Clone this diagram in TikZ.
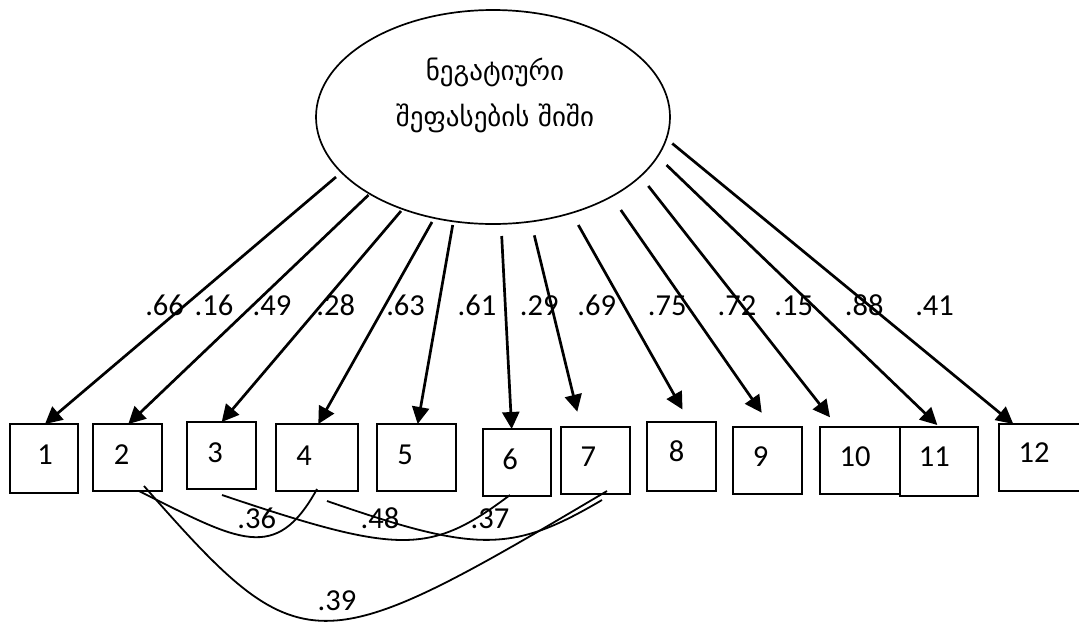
\documentclass[tikz,border=0pt]{standalone}
\usepackage{fontspec}
\setmainfont{Carlito}
\newfontfamily\geofont{DejaVu Sans}
\usetikzlibrary{arrows.meta,shapes.geometric}
\begin{document}
\begin{tikzpicture}[x=1pt,y=-1pt,
  box/.style={draw, line width=2.2pt, rectangle, inner sep=0pt},
  num/.style={inner sep=0pt, text height=19.3pt, text depth=0pt, font=\fontsize{30.5}{36}\selectfont},
  coef/.style={inner sep=0pt, text height=19.3pt, text depth=0pt, font=\fontsize{30.5}{36}\selectfont},
  arr/.style={line width=2.7pt, -{Triangle[length=17pt,width=17pt]}},
  cov/.style={line width=1.8pt}]
\useasboundingbox (0,0) rectangle (1079,622);
% latent variable
\node[draw, ellipse, line width=1.7pt, minimum width=354pt, minimum height=214pt, inner sep=0pt] (lat) at (493,117) {};
\node[inner sep=0pt, align=center, font=\geofont\fontsize{27}{46}\selectfont] (latname) at (495,95) {ნეგატიური\\შეფასების შიში};
% indicator boxes
\node[box, minimum width=68.3pt, minimum height=68.7pt] (b1) at (44.2,458.4) {};
\node[box, minimum width=68.4pt, minimum height=66.7pt] (b2) at (127.5,457.4) {};
\node[box, minimum width=68.4pt, minimum height=67.3pt] (b3) at (221.5,455.7) {};
\node[box, minimum width=82.6pt, minimum height=66.7pt] (b4) at (317,457.4) {};
\node[box, minimum width=79pt, minimum height=66.7pt] (b5) at (416.2,457.4) {};
\node[box, minimum width=68pt, minimum height=66.7pt] (b6) at (516.7,462.4) {};
\node[box, minimum width=69pt, minimum height=67.3pt] (b7) at (595.5,460.4) {};
\node[box, minimum width=68.7pt, minimum height=69pt] (b8) at (681.7,456.5) {};
\node[box, minimum width=68.4pt, minimum height=67.3pt] (b9) at (767.5,460.4) {};
\node[box, minimum width=80pt, minimum height=67.3pt] (b10) at (860,460.4) {};
\node[box, minimum width=78.3pt, minimum height=69.3pt] (b11) at (939.2,461.4) {};
\node[box, minimum width=81.7pt, minimum height=66.7pt] (b12) at (1040.2,457.4) {};
% box numbers
\node[num] (n1) at (45,455) {1};
\node[num] (n2) at (121.7,455) {2};
\node[num] (n3) at (215,452.7) {3};
\node[num] (n4) at (304,456) {4};
\node[num] (n5) at (405,455) {5};
\node[num] (n6) at (510,460) {6};
\node[num] (n7) at (588.3,456.7) {7};
\node[num] (n8) at (676.7,451.7) {8};
\node[num] (n9) at (760.7,456.7) {9};
\node[num] (n10) at (855,456.7) {10};
\node[num] (n11) at (934.3,456.7) {11};
\node[num] (n12) at (1034,453.3) {12};
% arrow end points
\coordinate (s1) at (336,177);   \coordinate (t1) at (45,424);
\coordinate (s2) at (368.5,195); \coordinate (t2) at (128.3,424);
\coordinate (s3) at (401,211);   \coordinate (t3) at (221.7,422);
\coordinate (s4) at (432,222);   \coordinate (t4) at (318.3,424);
\coordinate (s5) at (452.7,225); \coordinate (t5) at (417.7,424);
\coordinate (s6) at (501.7,236); \coordinate (t6) at (511.7,429);
\coordinate (s7) at (534.3,235.3); \coordinate (t7) at (577.3,411.7);
\coordinate (s8) at (578.3,225); \coordinate (t8) at (682.5,409.5);
\coordinate (s9) at (620.8,210); \coordinate (t9) at (761.7,412.7);
\coordinate (s10) at (648.3,186); \coordinate (t10) at (830,417.3);
\coordinate (s11) at (666.5,165); \coordinate (t11) at (937.3,425);
\coordinate (s12) at (672.3,143.5); \coordinate (t12) at (1013.3,424);
\foreach \i in {1,...,12} {\draw[arr] (s\i) -- (t\i);}
% loadings
\node[coef] (l1) at (164.6,306) {.66};
\node[coef] (l2) at (214,306) {.16};
\node[coef] (l3) at (272,306) {.49};
\node[coef] (l4) at (335.7,306) {.28};
\node[coef] (l5) at (405.6,306) {.63};
\node[coef] (l6) at (477,306) {.61};
\node[coef] (l7) at (539.3,306) {.29};
\node[coef] (l8) at (596.7,306) {.69};
\node[coef] (l9) at (667.2,306) {.75};
\node[coef] (l10) at (737,306) {.72};
\node[coef] (l11) at (793.7,306) {.15};
\node[coef] (l12) at (864.2,306) {.88};
\node[coef] (l13) at (934.6,306) {.41};
% covariances
\coordinate (c24a) at (139,491); \coordinate (c24b) at (317,489);
\coordinate (c27a) at (144,486); \coordinate (c27b) at (607,491);
\coordinate (c36a) at (222,495); \coordinate (c36b) at (510,495);
\coordinate (c47a) at (327,501); \coordinate (c47b) at (602,500);
\draw[cov] (c24a) .. controls (239,541) and (275.75,564) .. (c24b);
\draw[cov] (c27a) .. controls (302,666) and (315,664) .. (c27b);
\draw[cov] (c36a) .. controls (400,555) and (430,555) .. (c36b);
\draw[cov] (c47a) .. controls (477,553) and (512,553) .. (c47b);
\node[coef] (k1) at (256.7,519.3) {.36};
\node[coef] (k2) at (380,519.3) {.48};
\node[coef] (k3) at (490,519) {.37};
\node[coef] (k4) at (337,600.7) {.39};
\end{tikzpicture}
\end{document}
